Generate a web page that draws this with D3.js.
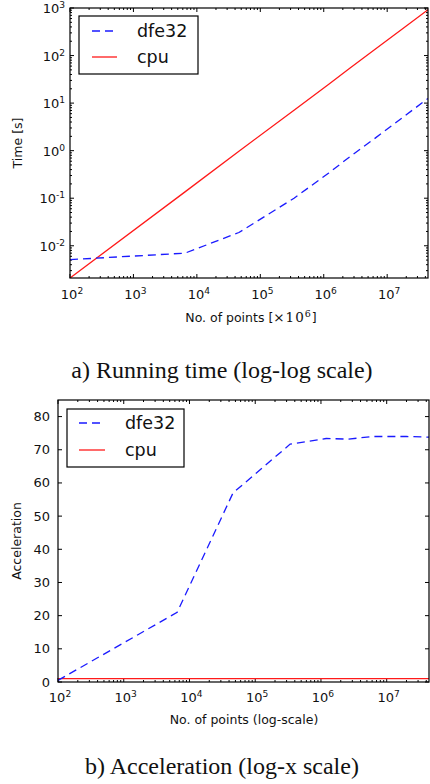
<!DOCTYPE html>
<html>
<head>
<meta charset="utf-8">
<script src="https://cdn.jsdelivr.net/npm/d3@7"></script>
<style>
  html, body { margin: 0; padding: 0; background: #fff; }
  svg { display: block; }
  text { font-family: "DejaVu Sans", sans-serif; fill: #111; }
  .caption { font-family: "Liberation Serif", "Times New Roman", serif; }
</style>
</head>
<body>
<svg id="fig" width="430" height="784"></svg>
<script>
// Problem sizes (number of points)
const points = [100, 6500, 46000, 340000, 1.2e6, 2.6e6, 6e6, 2e7, 4.4e7];
// Running time in seconds
const timeDfe32 = [5.1e-3, 7.0e-3, 0.019, 0.10, 0.34, 0.75, 1.7, 5.7, 12.5];
const timeCpu   = [2.1e-3, 0.136, 0.97, 7.1, 25, 55, 126, 420, 920];
// Acceleration relative to cpu
const accelDfe32 = [0.5, 21, 57, 71.7, 73.4, 73.2, 74, 74, 73.8];
const accelCpu   = [1, 1, 1, 1, 1, 1, 1, 1, 1];
// Axis ticks
const xDecades = [2, 3, 4, 5, 6, 7];
const yDecades = [-2, -1, 0, 1, 2, 3];
const accelTicks = [0, 10, 20, 30, 40, 50, 60, 70, 80];
const seriesNames = ["dfe32", "cpu"];
const seriesColors = ["#1a1aff", "#ff1a1a"];

const svg = d3.select("#fig");

function minorLogTicks(domain) {
  const out = [];
  const lo = Math.floor(Math.log10(domain[0])), hi = Math.ceil(Math.log10(domain[1]));
  for (let e = lo; e <= hi; e++) {
    for (let m = 2; m <= 9; m++) {
      const v = m * Math.pow(10, e);
      if (v > domain[0] && v < domain[1]) out.push(v);
    }
  }
  return out;
}

function powLabel(sel, exp, anchor) {
  sel.attr("text-anchor", anchor);
  sel.append("tspan").text("10");
  sel.append("tspan").attr("dy", "-0.55em").attr("font-size", "0.7em").text(exp);
}

function frame(g, L, R, T, B) {
  g.append("rect").attr("x", L).attr("y", T).attr("width", R - L).attr("height", B - T)
    .attr("fill", "none").attr("stroke", "#000").attr("stroke-width", 1.2);
}

function legend(g, x, y, w, h, lineX0, lineX1, textX, rows) {
  g.append("rect").attr("x", x).attr("y", y).attr("width", w).attr("height", h)
    .attr("fill", "#fff").attr("stroke", "#000").attr("stroke-width", 1.2);
  rows.forEach((r, i) => {
    g.append("line").attr("x1", lineX0).attr("x2", lineX1).attr("y1", r.y).attr("y2", r.y)
      .attr("stroke", seriesColors[i]).attr("stroke-width", 1.3)
      .attr("stroke-dasharray", i === 0 ? "8,5" : null);
    g.append("text").attr("x", textX).attr("y", r.y + 6).attr("font-size", 17.5).text(seriesNames[i]);
  });
}

// ---------- a) Running time, log-log ----------
{
  const L = 70, R = 428, T = 8, B = 278;
  const x = d3.scaleLog().domain([100, 4.4e7]).range([L, R]);
  const y = d3.scaleLog().domain([2.1e-3, 1e3]).range([B, T]);
  const g = svg.append("g");

  const ticks = g.append("g").attr("stroke", "#000").attr("stroke-width", 1);
  xDecades.forEach(e => {
    const px = x(Math.pow(10, e));
    ticks.append("line").attr("x1", px).attr("x2", px).attr("y1", B).attr("y2", B - 4);
    ticks.append("line").attr("x1", px).attr("x2", px).attr("y1", T).attr("y2", T + 4);
  });
  minorLogTicks(x.domain()).forEach(v => {
    const px = x(v);
    ticks.append("line").attr("x1", px).attr("x2", px).attr("y1", B).attr("y2", B - 2);
    ticks.append("line").attr("x1", px).attr("x2", px).attr("y1", T).attr("y2", T + 2);
  });
  yDecades.forEach(e => {
    const py = y(Math.pow(10, e));
    ticks.append("line").attr("x1", L).attr("x2", L + 4).attr("y1", py).attr("y2", py);
    ticks.append("line").attr("x1", R).attr("x2", R - 4).attr("y1", py).attr("y2", py);
  });
  minorLogTicks(y.domain()).forEach(v => {
    const py = y(v);
    ticks.append("line").attr("x1", L).attr("x2", L + 2).attr("y1", py).attr("y2", py);
    ticks.append("line").attr("x1", R).attr("x2", R - 2).attr("y1", py).attr("y2", py);
  });

  xDecades.forEach(e => {
    g.append("text").attr("x", x(Math.pow(10, e)) + 2).attr("y", B + 21).attr("font-size", 13)
      .call(s => powLabel(s, e, "middle"));
  });
  yDecades.forEach(e => {
    g.append("text").attr("x", L - 5).attr("y", y(Math.pow(10, e)) + 5).attr("font-size", 13)
      .call(s => powLabel(s, e, "end"));
  });

  const clip = g.append("clipPath").attr("id", "clipA");
  clip.append("rect").attr("x", L).attr("y", T).attr("width", R - L).attr("height", B - T);

  const line = vals => d3.line().x((d, i) => x(points[i])).y(d => y(d))(vals);
  g.append("path").attr("clip-path", "url(#clipA)").attr("d", line(timeCpu))
    .attr("fill", "none").attr("stroke", seriesColors[1]).attr("stroke-width", 1.3);
  g.append("path").attr("clip-path", "url(#clipA)").attr("d", line(timeDfe32))
    .attr("fill", "none").attr("stroke", seriesColors[0]).attr("stroke-width", 1.3)
    .attr("stroke-dasharray", "8,5");

  frame(g, L, R, T, B);
  legend(g, 79, 16, 119, 58, 92, 117, 137, [{ y: 31 }, { y: 57 }]);

  // Axis titles
  const xt = g.append("text").attr("x", 251).attr("y", 322).attr("text-anchor", "middle").attr("font-size", 12.5);
  xt.append("tspan").text("No. of points [");
  xt.append("tspan").attr("font-family", "DejaVu Serif, serif").attr("font-size", 13.5)
    .attr("letter-spacing", 1).text("×10");
  xt.append("tspan").attr("font-family", "DejaVu Serif, serif").attr("font-size", 9.5).attr("dy", -5).text("6");
  xt.append("tspan").attr("dy", 5).attr("dx", 1).text("]");
  g.append("text").attr("transform", `translate(22,${(T + B) / 2}) rotate(-90)`)
    .attr("text-anchor", "middle").attr("font-size", 12.5).text("Time [s]");

  g.append("text").attr("class", "caption").attr("x", 222).attr("y", 378)
    .attr("text-anchor", "middle").attr("font-size", 24).text("a) Running time (log-log scale)");
}

// ---------- b) Acceleration, log-x ----------
{
  const L = 58, R = 429, T = 400, B = 682;
  const x = d3.scaleLog().domain([100, 4.4e7]).range([L, R]);
  const y = d3.scaleLinear().domain([0, 85]).range([B, T]);
  const g = svg.append("g");

  const ticks = g.append("g").attr("stroke", "#000").attr("stroke-width", 1);
  xDecades.forEach(e => {
    const px = x(Math.pow(10, e));
    ticks.append("line").attr("x1", px).attr("x2", px).attr("y1", B).attr("y2", B - 4);
    ticks.append("line").attr("x1", px).attr("x2", px).attr("y1", T).attr("y2", T + 4);
  });
  minorLogTicks(x.domain()).forEach(v => {
    const px = x(v);
    ticks.append("line").attr("x1", px).attr("x2", px).attr("y1", B).attr("y2", B - 2);
    ticks.append("line").attr("x1", px).attr("x2", px).attr("y1", T).attr("y2", T + 2);
  });
  accelTicks.forEach(v => {
    const py = y(v);
    ticks.append("line").attr("x1", L).attr("x2", L + 4).attr("y1", py).attr("y2", py);
    ticks.append("line").attr("x1", R).attr("x2", R - 4).attr("y1", py).attr("y2", py);
  });

  xDecades.forEach(e => {
    g.append("text").attr("x", x(Math.pow(10, e)) + 2).attr("y", B + 20).attr("font-size", 13)
      .call(s => powLabel(s, e, "middle"));
  });
  accelTicks.forEach(v => {
    g.append("text").attr("x", L - 8).attr("y", y(v) + 4.5).attr("text-anchor", "end")
      .attr("font-size", 13).text(v);
  });

  const clip = g.append("clipPath").attr("id", "clipB");
  clip.append("rect").attr("x", L).attr("y", T).attr("width", R - L).attr("height", B - T);

  const line = vals => d3.line().x((d, i) => x(points[i])).y(d => y(d))(vals);
  g.append("path").attr("clip-path", "url(#clipB)").attr("d", line(accelCpu))
    .attr("fill", "none").attr("stroke", seriesColors[1]).attr("stroke-width", 1.3);
  g.append("path").attr("clip-path", "url(#clipB)").attr("d", line(accelDfe32))
    .attr("fill", "none").attr("stroke", seriesColors[0]).attr("stroke-width", 1.3)
    .attr("stroke-dasharray", "8,5");

  frame(g, L, R, T, B);
  legend(g, 67, 409, 117, 58, 79, 105, 125, [{ y: 423 }, { y: 450 }]);

  g.append("text").attr("x", 244).attr("y", 724).attr("text-anchor", "middle")
    .attr("font-size", 12.5).text("No. of points (log-scale)");
  g.append("text").attr("transform", `translate(21,${(T + B) / 2}) rotate(-90)`)
    .attr("text-anchor", "middle").attr("font-size", 12.5).text("Acceleration");

  g.append("text").attr("class", "caption").attr("x", 222).attr("y", 774)
    .attr("text-anchor", "middle").attr("font-size", 24).text("b) Acceleration (log-x scale)");
}
</script>
</body>
</html>
